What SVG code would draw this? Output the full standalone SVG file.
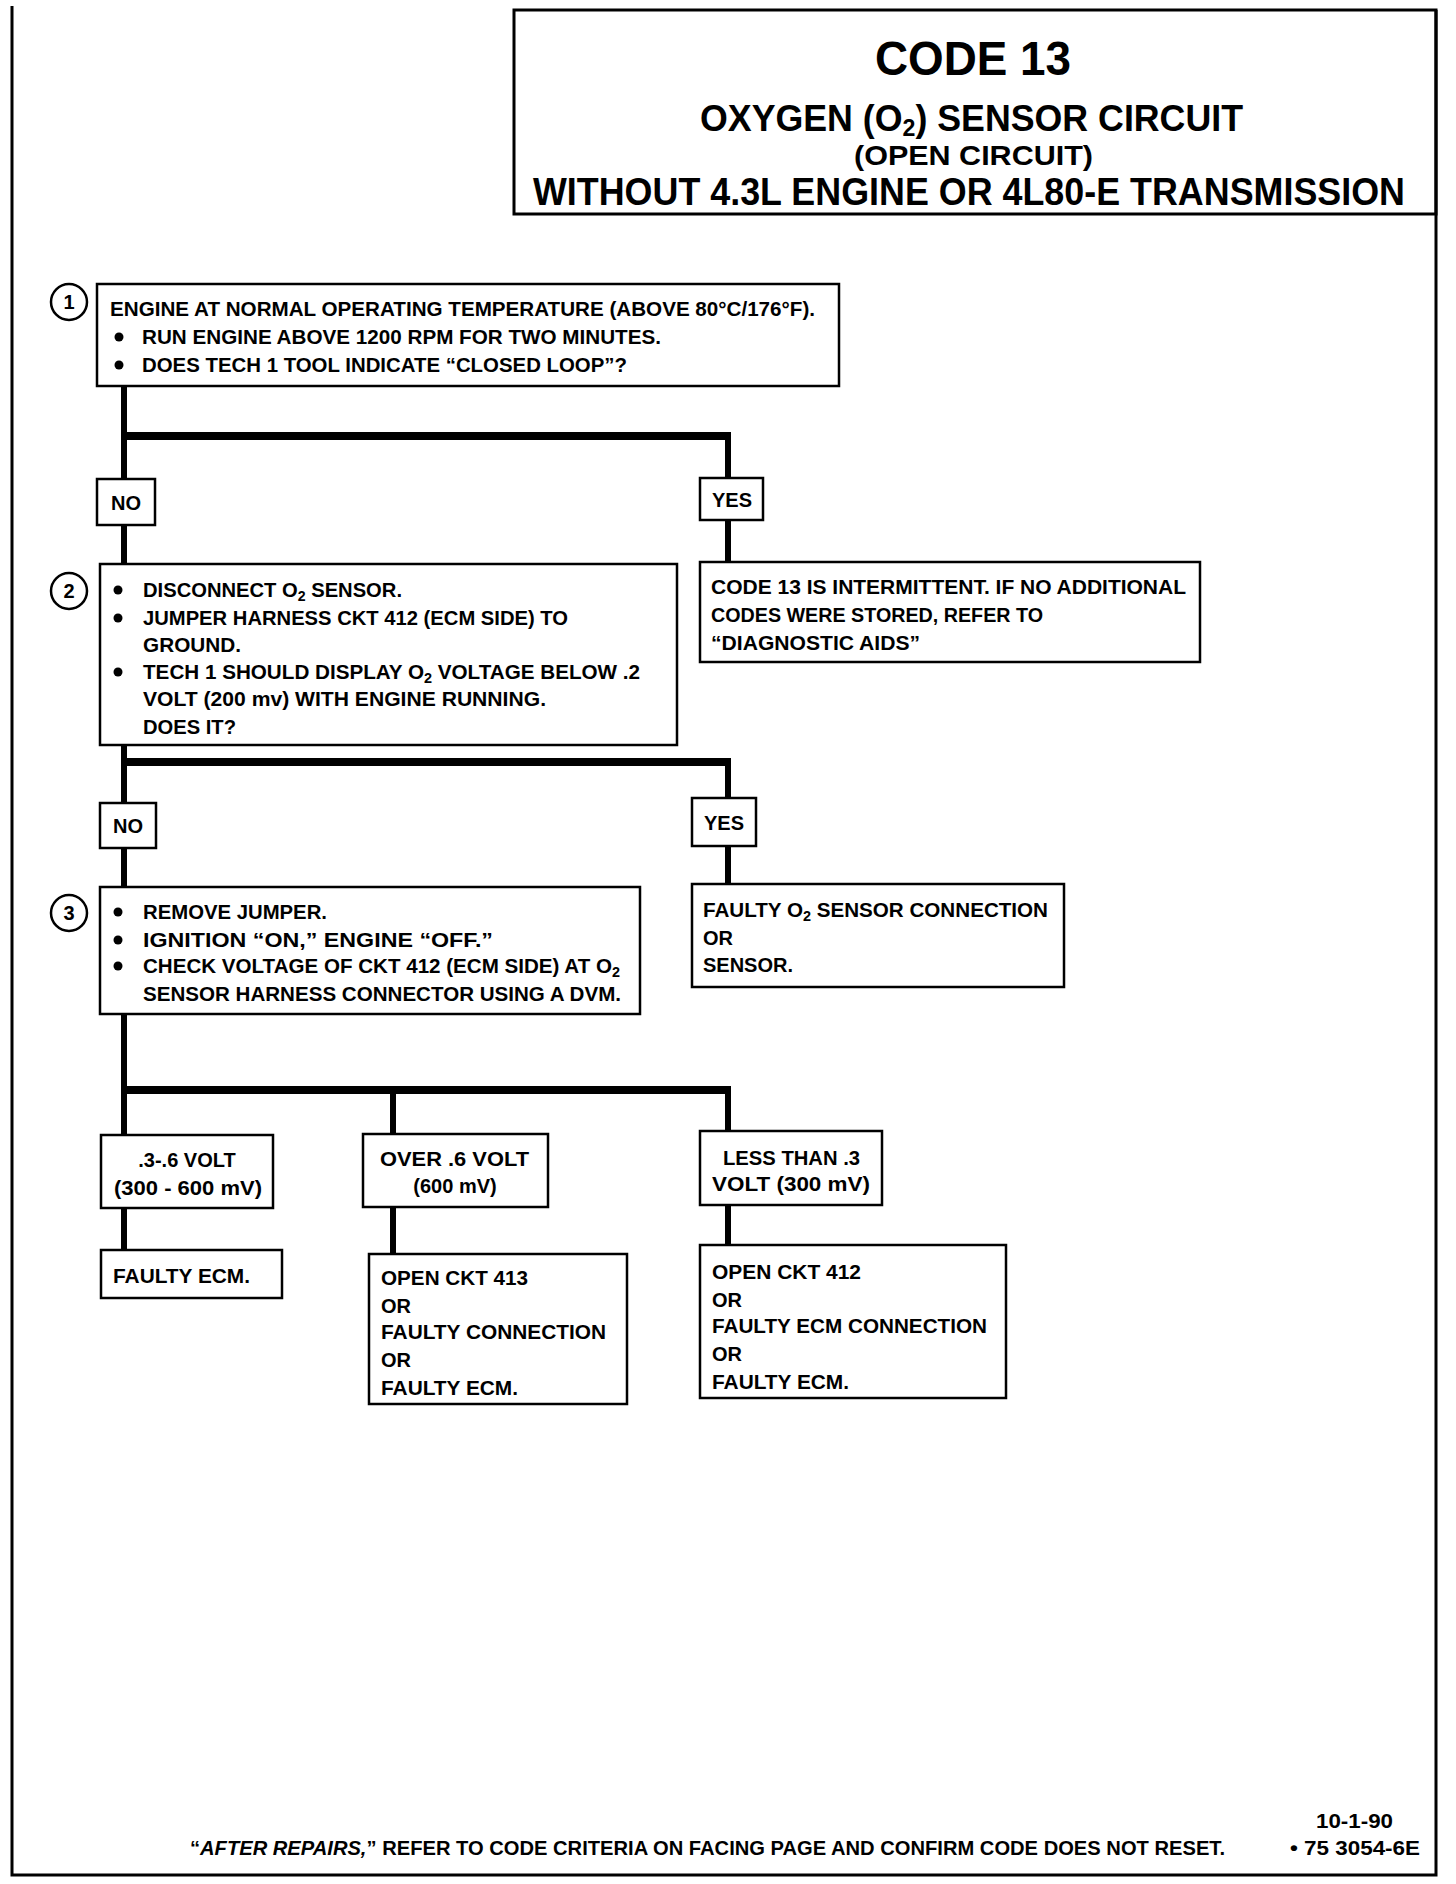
<svg xmlns="http://www.w3.org/2000/svg" width="1456" height="1884" viewBox="0 0 1456 1884">
<style>
.t{font-family:"Liberation Sans",Arial,sans-serif;font-weight:bold;font-size:20px;fill:#000}
.m{text-anchor:middle}
.box{fill:#fff;stroke:#000;stroke-width:2.5}
.c{fill:none;stroke:#000;stroke-width:6}
.h{fill:none;stroke:#000;stroke-width:8}
.frame{fill:none;stroke:#000;stroke-width:3}
.num{fill:#fff;stroke:#000;stroke-width:2.5}
.sub{font-size:14px}
</style>
<rect width="1456" height="1884" fill="#fff"/>
<g id="frame">
<path class="frame" d="M12 6 V1875 H1436 V10"/>
</g>
<g id="header">
<rect class="frame" x="514" y="10" width="922" height="204"/>
<text class="t" x="875" y="75" style="font-size:48px" textLength="196" lengthAdjust="spacingAndGlyphs">CODE 13</text>
<text class="t" x="700" y="131" style="font-size:37px" textLength="543" lengthAdjust="spacingAndGlyphs">OXYGEN (O<tspan style="font-size:24px" dy="5">2</tspan><tspan dy="-5">) SENSOR CIRCUIT</tspan></text>
<text class="t" x="854" y="165" style="font-size:28px" textLength="239" lengthAdjust="spacingAndGlyphs">(OPEN CIRCUIT)</text>
<text class="t" x="533" y="205" style="font-size:38px" textLength="872" lengthAdjust="spacingAndGlyphs">WITHOUT 4.3L ENGINE OR 4L80-E TRANSMISSION</text>
</g>
<g id="connectors">
<path class="c" d="M124 386 V479 M728 436 V478 M124 525 V564 M728 520 V562"/>
<path class="h" d="M121 436 H731"/>
<path class="c" d="M124 745 V803 M728 762 V798 M124 848 V887 M728 846 V884"/>
<path class="h" d="M121 762 H731"/>
<path class="c" d="M124 1014 V1135 M393 1090 V1134 M728 1090 V1131 M124 1208 V1250 M393 1207 V1254 M728 1205 V1245"/>
<path class="h" d="M121 1090 H731"/>
</g>
<g id="step1">
<circle class="num" cx="69" cy="302" r="18"/>
<text class="t m" x="69" y="309">1</text>
<rect class="box" x="97" y="284" width="742" height="102"/>
<text class="t" x="110" y="316" textLength="705" lengthAdjust="spacingAndGlyphs">ENGINE AT NORMAL OPERATING TEMPERATURE (ABOVE 80°C/176°F).</text>
<circle cx="119" cy="337" r="4.5"/>
<text class="t" x="142" y="344" textLength="519" lengthAdjust="spacingAndGlyphs">RUN ENGINE ABOVE 1200 RPM FOR TWO MINUTES.</text>
<circle cx="119" cy="365" r="4.5"/>
<text class="t" x="142" y="372" textLength="485" lengthAdjust="spacingAndGlyphs">DOES TECH 1 TOOL INDICATE “CLOSED LOOP”?</text>
</g>
<g id="no1">
<rect class="box" x="97" y="479" width="58" height="46"/>
<text class="t m" x="126" y="510">NO</text>
</g>
<g id="yes1">
<rect class="box" x="700" y="478" width="63" height="42"/>
<text class="t m" x="732" y="507">YES</text>
</g>
<g id="result1">
<rect class="box" x="700" y="562" width="500" height="100"/>
<text class="t" x="711" y="594" textLength="475" lengthAdjust="spacingAndGlyphs">CODE 13 IS INTERMITTENT.  IF NO ADDITIONAL</text>
<text class="t" x="711" y="622" textLength="332" lengthAdjust="spacingAndGlyphs">CODES WERE STORED, REFER TO</text>
<text class="t" x="711" y="650" textLength="209" lengthAdjust="spacingAndGlyphs">“DIAGNOSTIC AIDS”</text>
</g>
<g id="step2">
<circle class="num" cx="69" cy="591" r="18"/>
<text class="t m" x="69" y="598">2</text>
<rect class="box" x="100" y="564" width="577" height="181"/>
<circle cx="118" cy="590" r="4.5"/>
<text class="t" x="143" y="597" textLength="259" lengthAdjust="spacingAndGlyphs">DISCONNECT O<tspan class="sub" dy="4">2</tspan><tspan dy="-4"> SENSOR.</tspan></text>
<circle cx="118" cy="618" r="4.5"/>
<text class="t" x="143" y="625" textLength="425" lengthAdjust="spacingAndGlyphs">JUMPER HARNESS CKT 412 (ECM SIDE) TO</text>
<text class="t" x="143" y="652" textLength="98" lengthAdjust="spacingAndGlyphs">GROUND.</text>
<circle cx="118" cy="672" r="4.5"/>
<text class="t" x="143" y="679" textLength="497" lengthAdjust="spacingAndGlyphs">TECH 1 SHOULD DISPLAY O<tspan class="sub" dy="4">2</tspan><tspan dy="-4"> VOLTAGE BELOW .2</tspan></text>
<text class="t" x="143" y="706" textLength="403" lengthAdjust="spacingAndGlyphs">VOLT (200 mv) WITH ENGINE RUNNING.</text>
<text class="t" x="143" y="734" textLength="93" lengthAdjust="spacingAndGlyphs">DOES IT?</text>
</g>
<g id="no2">
<rect class="box" x="100" y="803" width="56" height="45"/>
<text class="t m" x="128" y="833">NO</text>
</g>
<g id="yes2">
<rect class="box" x="692" y="798" width="64" height="48"/>
<text class="t m" x="724" y="830">YES</text>
</g>
<g id="result2">
<rect class="box" x="692" y="884" width="372" height="103"/>
<text class="t" x="703" y="917" textLength="345" lengthAdjust="spacingAndGlyphs">FAULTY O<tspan class="sub" dy="4">2</tspan><tspan dy="-4"> SENSOR CONNECTION</tspan></text>
<text class="t" x="703" y="945">OR</text>
<text class="t" x="703" y="972" textLength="90" lengthAdjust="spacingAndGlyphs">SENSOR.</text>
</g>
<g id="step3">
<circle class="num" cx="69" cy="913" r="18"/>
<text class="t m" x="69" y="920">3</text>
<rect class="box" x="100" y="887" width="540" height="127"/>
<circle cx="118" cy="912" r="4.5"/>
<text class="t" x="143" y="919" textLength="184" lengthAdjust="spacingAndGlyphs">REMOVE JUMPER.</text>
<circle cx="118" cy="940" r="4.5"/>
<text class="t" x="143" y="947" textLength="350" lengthAdjust="spacingAndGlyphs">IGNITION “ON,”  ENGINE  “OFF.”</text>
<circle cx="118" cy="966" r="4.5"/>
<text class="t" x="143" y="973" textLength="477" lengthAdjust="spacingAndGlyphs">CHECK VOLTAGE OF CKT 412 (ECM SIDE) AT O<tspan class="sub" dy="4">2</tspan></text>
<text class="t" x="143" y="1001" textLength="478" lengthAdjust="spacingAndGlyphs">SENSOR HARNESS CONNECTOR USING A DVM.</text>
</g>
<g id="rangeA">
<rect class="box" x="101" y="1135" width="172" height="73"/>
<text class="t m" x="187" y="1167">.3-.6 VOLT</text>
<text class="t" x="114" y="1195" textLength="148" lengthAdjust="spacingAndGlyphs">(300 - 600 mV)</text>
</g>
<g id="rangeB">
<rect class="box" x="363" y="1134" width="185" height="73"/>
<text class="t" x="380" y="1166" textLength="149" lengthAdjust="spacingAndGlyphs">OVER .6  VOLT</text>
<text class="t m" x="455" y="1193">(600 mV)</text>
</g>
<g id="rangeC">
<rect class="box" x="700" y="1131" width="182" height="74"/>
<text class="t" x="723" y="1165" textLength="137" lengthAdjust="spacingAndGlyphs">LESS THAN .3</text>
<text class="t" x="712" y="1191" textLength="158" lengthAdjust="spacingAndGlyphs">VOLT  (300 mV)</text>
</g>
<g id="resultA">
<rect class="box" x="101" y="1250" width="181" height="48"/>
<text class="t" x="113" y="1283" textLength="137" lengthAdjust="spacingAndGlyphs">FAULTY ECM.</text>
</g>
<g id="resultB">
<rect class="box" x="369" y="1254" width="258" height="150"/>
<text class="t" x="381" y="1285" textLength="147" lengthAdjust="spacingAndGlyphs">OPEN CKT 413</text>
<text class="t" x="381" y="1313">OR</text>
<text class="t" x="381" y="1339" textLength="225" lengthAdjust="spacingAndGlyphs">FAULTY CONNECTION</text>
<text class="t" x="381" y="1367">OR</text>
<text class="t" x="381" y="1395" textLength="137" lengthAdjust="spacingAndGlyphs">FAULTY ECM.</text>
</g>
<g id="resultC">
<rect class="box" x="700" y="1245" width="306" height="153"/>
<text class="t" x="712" y="1279" textLength="149" lengthAdjust="spacingAndGlyphs">OPEN CKT  412</text>
<text class="t" x="712" y="1307">OR</text>
<text class="t" x="712" y="1333" textLength="275" lengthAdjust="spacingAndGlyphs">FAULTY ECM CONNECTION</text>
<text class="t" x="712" y="1361">OR</text>
<text class="t" x="712" y="1389" textLength="137" lengthAdjust="spacingAndGlyphs">FAULTY ECM.</text>
</g>
<g id="footer">
<text class="t" x="1316" y="1828" textLength="77" lengthAdjust="spacingAndGlyphs">10-1-90</text>
<text class="t" x="1290" y="1855" textLength="130" lengthAdjust="spacingAndGlyphs">• 75 3054-6E</text>
<text class="t" x="190" y="1855" textLength="1035" lengthAdjust="spacingAndGlyphs">“<tspan font-style="italic">AFTER REPAIRS,</tspan>” REFER TO CODE CRITERIA ON FACING PAGE AND CONFIRM CODE DOES NOT RESET.</text>
</g>
</svg>
